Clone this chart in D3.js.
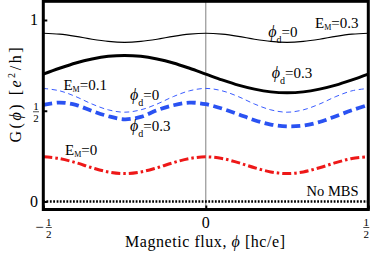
<!DOCTYPE html>
<html><head><meta charset="utf-8">
<script src="https://cdn.jsdelivr.net/npm/d3@7"></script>
<style>
html,body{margin:0;padding:0;background:#fff;}
svg{display:block;font-family:"Liberation Serif","Times New Roman",serif;}
</style></head>
<body><svg id="c" width="374" height="259"></svg>
<script>
// ---- data ----
const phi = [-0.5,-0.45,-0.4,-0.35,-0.3,-0.25,-0.2,-0.15,-0.1,-0.05,0,0.05,0.1,0.15,0.2,0.25,0.3,0.35,0.4,0.45,0.5];
const gEM03_pd0  = [0.927,0.922,0.910,0.894,0.882,0.877,0.882,0.894,0.910,0.922,0.927,0.922,0.910,0.894,0.882,0.877,0.882,0.894,0.910,0.922,0.927];
const gEM03_pd03 = [0.702,0.734,0.763,0.785,0.800,0.805,0.800,0.785,0.763,0.734,0.702,0.670,0.641,0.619,0.604,0.599,0.604,0.619,0.641,0.670,0.702];
const gEM01_pd0  = [0.623,0.610,0.578,0.537,0.505,0.492,0.505,0.537,0.578,0.610,0.623,0.610,0.578,0.537,0.505,0.492,0.505,0.537,0.578,0.610,0.623];
const gEM01_pd03 = [0.532,0.545,0.532,0.499,0.470,0.453,0.466,0.503,0.530,0.545,0.536,0.512,0.481,0.448,0.424,0.414,0.418,0.438,0.470,0.503,0.532];
const gEM0       = [0.246,0.237,0.214,0.186,0.163,0.154,0.163,0.186,0.214,0.237,0.246,0.237,0.214,0.186,0.163,0.154,0.163,0.186,0.214,0.237,0.246];
const gNoMBS     = [0,0,0,0,0,0,0,0,0,0,0,0,0,0,0,0,0,0,0,0,0];
const xTicks = [-0.5, 0, 0.5];
const yTicks = [0, 0.5, 1];

const svg = d3.select("#c");
const x = d3.scaleLinear().domain([-0.5,0.5]).range([43.3,368.3]);
const y = d3.scaleLinear().domain([0,1]).range([201.5,20]);
const frameTop = 1.3, frameBottom = 209.5;

// zero flux line
svg.append("line").attr("x1",x(0)).attr("x2",x(0)).attr("y1",frameTop).attr("y2",frameBottom)
  .attr("stroke","#808080").attr("stroke-width",1);

const line = d3.line().x((d,i)=>x(phi[i])).y(d=>y(d)).curve(d3.curveCatmullRom.alpha(0.5));
const series = [
  {v:gNoMBS, c:"#000", w:2.6, dash:"1.8,1.5"},
  {v:gEM0, c:"#ee1818", w:3, dash:"9,3,2.5,3"},
  {v:gEM01_pd0, c:"#3a5cff", w:1, dash:"5,3.5"},
  {v:gEM01_pd03, c:"#2a52f2", w:3.8, dash:"9,4.5"},
  {v:gEM03_pd0, c:"#000", w:1.1, dash:null},
  {v:gEM03_pd03, c:"#000", w:3, dash:null}
];
series.forEach(s=>{
  svg.append("path").attr("d",line(s.v)).attr("fill","none").attr("stroke",s.c)
    .attr("stroke-width",s.w).attr("stroke-dasharray",s.dash);
});

// axes ticks (inward)
svg.append("g").attr("transform",`translate(${x(-0.5)},0)`)
  .call(d3.axisLeft(y).tickValues(yTicks).tickSize(-4).tickFormat(""))
  .call(g=>{g.select(".domain").remove(); g.selectAll("line").attr("stroke-width",2);});
svg.append("g").attr("transform",`translate(0,${frameBottom})`)
  .call(d3.axisBottom(x).tickValues(xTicks).tickSize(-4).tickFormat(""))
  .call(g=>{g.select(".domain").remove(); g.selectAll("line").attr("stroke-width",2);});

// frame
svg.append("rect").attr("x",x(-0.5)).attr("y",frameTop).attr("width",x(0.5)-x(-0.5)).attr("height",frameBottom-frameTop)
  .attr("fill","none").attr("stroke","#000").attr("stroke-width",3);

// fraction helper
function frac(cx, cy, sign){
  const g = svg.append("g");
  g.append("text").attr("x",cx).attr("y",cy-2).attr("text-anchor","middle").attr("font-size",11).text("1");
  g.append("line").attr("x1",cx-3).attr("x2",cx+3).attr("y1",cy).attr("y2",cy).attr("stroke","#000").attr("stroke-width",0.7);
  g.append("text").attr("x",cx).attr("y",cy+10).attr("text-anchor","middle").attr("font-size",11).text("2");
  if(sign) g.append("text").attr("x",cx-5).attr("y",cy+4).attr("text-anchor","end").attr("font-size",15).text("\u2212");
}
// y tick labels
svg.append("text").attr("x",38).attr("y",y(1)+5).attr("text-anchor","end").attr("font-size",16).text("1");
frac(36, y(0.5)+1, false);
svg.append("text").attr("x",38).attr("y",y(0)+5.5).attr("text-anchor","end").attr("font-size",16).text("0");
// x tick labels
frac(x(-0.5)+5.5, 227.5, true);
svg.append("text").attr("x",x(0)).attr("y",228).attr("text-anchor","middle").attr("font-size",16).text("0");
frac(x(0.5)-2, 227.5, false);

// axis titles
const xt = svg.append("text").attr("x",205).attr("y",247).attr("text-anchor","middle").attr("font-size",16)
  .attr("textLength",160).attr("lengthAdjust","spacing");
xt.append("tspan").text("Magnetic flux, ");
xt.append("tspan").attr("font-style","italic").text("\u03d5");
xt.append("tspan").text(" [hc/e]");

const yt = svg.append("text").attr("transform","translate(20.5,95) rotate(-90)").attr("text-anchor","middle")
  .attr("font-size",16).attr("textLength",95).attr("lengthAdjust","spacing");
yt.append("tspan").text("G(");
yt.append("tspan").attr("font-style","italic").text("\u03d5");
yt.append("tspan").text(") [");
yt.append("tspan").attr("font-style","italic").text("e");
yt.append("tspan").attr("font-size",10).attr("dy",-6).text("2");
yt.append("tspan").attr("dy",6).text("/h]");

// annotations
function phiLabel(px, py, val){
  const t = svg.append("text").attr("x",x(px)).attr("y",y(py)).attr("font-size",15);
  t.append("tspan").attr("font-style","italic").attr("font-size",16).text("\u03d5");
  t.append("tspan").attr("font-size",10).attr("dy",6).text("d");
  t.append("tspan").attr("dy",-6).text("="+val);
}
function emLabel(px, py, val){
  const t = svg.append("text").attr("x",x(px)).attr("y",y(py)).attr("font-size",15);
  t.append("tspan").text("E");
  t.append("tspan").attr("font-size",8).attr("dy",1.5).text("M");
  t.append("tspan").attr("dy",-1.5).text("="+val);
}
phiLabel(0.192, 0.906, "0");
emLabel(0.336, 0.954, "0.3");
phiLabel(0.203, 0.679, "0.3");
emLabel(-0.438, 0.614, "0.1");
phiLabel(-0.233, 0.559, "0");
phiLabel(-0.233, 0.388, "0.3");
emLabel(-0.433, 0.256, "0");
svg.append("text").attr("x",x(0.31)).attr("y",y(0.03)).attr("font-size",14.5).text("No MBS");
</script></body></html>
